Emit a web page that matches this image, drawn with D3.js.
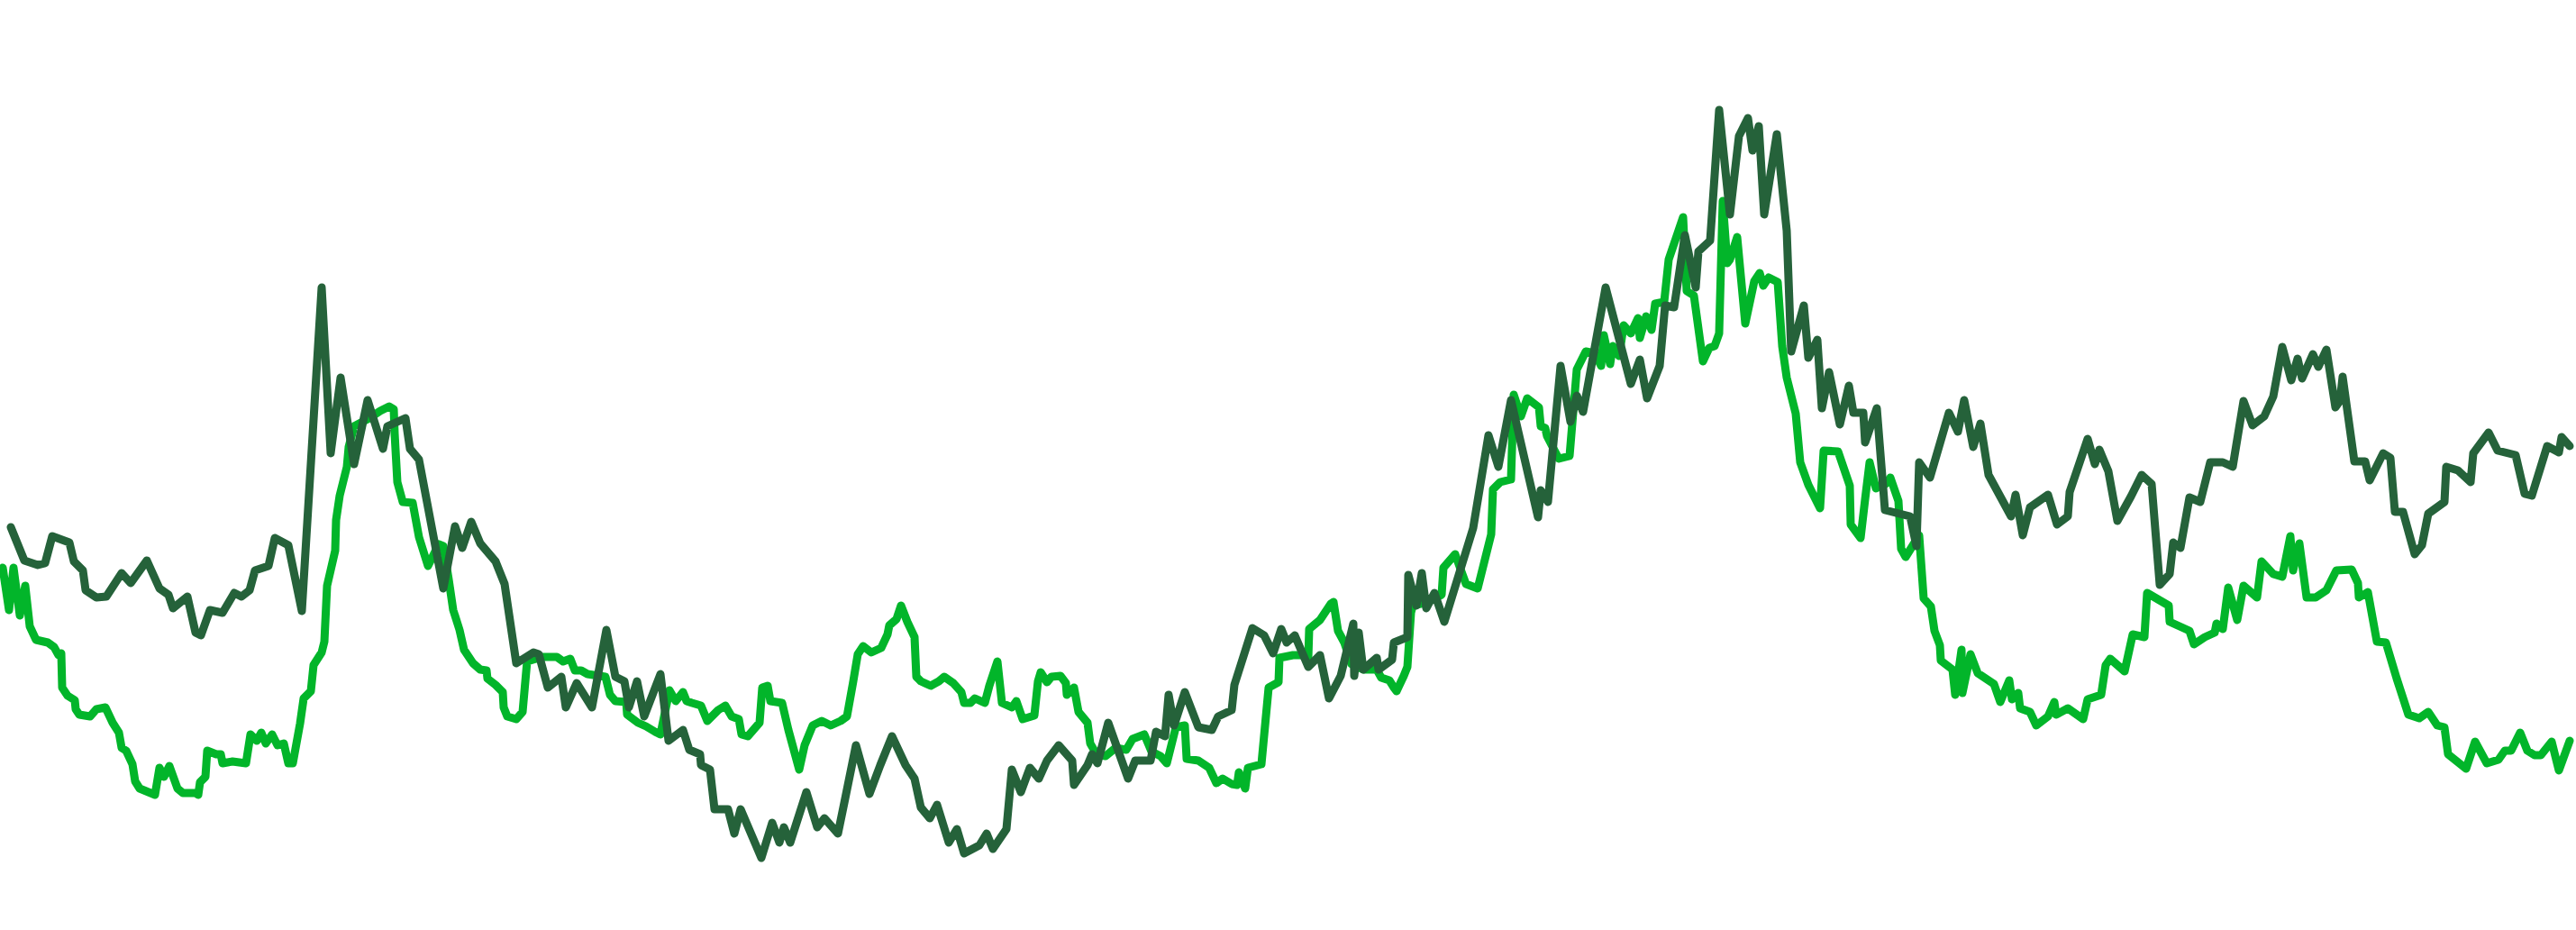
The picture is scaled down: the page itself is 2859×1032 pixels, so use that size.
<!DOCTYPE html>
<html>
<head>
<meta charset="utf-8">
<script src="https://cdn.jsdelivr.net/npm/d3@7"></script>
<style>
  html, body { margin: 0; padding: 0; background: #ffffff; }
  svg { display: block; }
</style>
</head>
<body>
<div id="chart"></div>
<script>
// Series A (bright green): time positions and values
const brightT = [3,10,15,22,28,33,40,53,60,65,68,69,75,83,84,88,100,107,117,125,132,135,140,147,150,155,172,177,182,188,197,203,217,220,222,228,230,240,245,247,258,273,278,285,290,295,302,308,315,320,325,333,337,345,348,357,360,363,372,373,377,385,387,393,410,422,432,437,438,441,447,458,465,475,487,492,498,503,510,515,525,533,540,541,550,558,559,563,573,580,585,602,618,625,633,638,645,652,672,677,683,695,696,708,717,727,733,743,750,758,762,768,778,785,797,805,812,820,823,830,843,846,852,855,868,875,887,893,902,912,922,933,940,947,952,958,967,978,985,987,995,1000,1007,1015,1017,1022,1033,1042,1048,1058,1067,1070,1077,1082,1093,1098,1107,1112,1123,1128,1135,1148,1152,1155,1162,1167,1177,1183,1184,1192,1197,1207,1210,1217,1227,1238,1250,1257,1270,1278,1288,1295,1305,1315,1317,1330,1342,1350,1357,1367,1373,1375,1382,1385,1400,1408,1419,1420,1435,1448,1452,1453,1465,1477,1480,1485,1492,1500,1513,1528,1533,1542,1547,1550,1558,1562,1566,1568,1585,1600,1602,1615,1627,1640,1655,1657,1665,1677,1680,1688,1695,1708,1710,1715,1717,1730,1742,1750,1760,1770,1777,1780,1787,1790,1797,1802,1810,1818,1820,1827,1833,1837,1847,1852,1868,1872,1880,1890,1897,1903,1908,1912,1917,1920,1928,1937,1947,1953,1957,1963,1973,1978,1983,1993,1998,2007,2020,2024,2040,2053,2054,2065,2070,2075,2082,2093,2098,2107,2110,2115,2130,2135,2143,2147,2153,2154,2167,2170,2177,2178,2187,2195,2213,2220,2230,2233,2240,2242,2253,2260,2273,2280,2282,2295,2312,2317,2332,2337,2342,2358,2367,2380,2383,2407,2408,2430,2435,2447,2458,2460,2467,2473,2483,2490,2505,2510,2523,2533,2542,2545,2552,2560,2570,2582,2593,2610,2617,2618,2628,2638,2648,2660,2673,2685,2695,2705,2713,2717,2737,2747,2760,2773,2780,2787,2797,2805,2813,2820,2832,2840,2852];
const brightV = [40.2,35.5,40.2,34.9,38.2,33.7,32.2,31.9,31.4,30.5,30.7,26.9,26.0,25.5,24.5,23.9,23.7,24.5,24.7,23.0,21.9,20.2,19.9,18.4,16.5,15.7,15.0,18.0,17.0,18.2,15.7,15.2,15.2,15.0,16.4,17.0,19.9,19.5,19.5,18.5,18.7,18.5,21.7,21.0,21.9,20.7,21.7,20.5,20.7,18.5,18.5,22.9,25.7,26.5,29.4,30.8,32.0,38.2,42.1,45.5,48.2,51.4,53.6,55.9,56.8,57.6,58.1,57.8,55.1,49.7,47.5,47.4,43.6,40.4,42.8,42.6,38.9,35.5,33.3,31.1,29.6,28.9,28.8,27.9,27.2,26.4,24.7,23.7,23.4,24.2,29.8,30.3,30.3,29.8,30.1,28.8,28.8,28.4,28.1,26.1,25.4,25.3,23.9,23.0,22.6,22.0,21.7,26.6,25.4,26.4,25.4,25.2,24.9,23.2,24.4,24.9,23.7,23.4,21.7,21.5,23.0,26.9,27.1,25.4,25.2,22.2,17.8,20.5,22.7,23.2,22.7,23.2,23.7,27.6,30.6,31.5,30.8,31.3,32.8,33.8,34.5,36.0,34.2,32.5,28.1,27.6,27.1,27.6,28.1,27.4,26.4,25.2,25.2,25.7,25.2,27.1,29.8,25.2,24.7,25.4,23.4,23.8,27.6,28.6,27.5,28.1,28.2,27.4,26.1,26.9,24.2,23.0,20.7,19.5,19.3,20.2,20.0,21.2,21.7,19.8,19.3,18.5,22.5,22.7,19.0,18.8,18.0,16.3,16.8,16.2,16.1,17.5,15.7,18.0,18.4,26.9,27.5,30.2,30.5,30.5,30.2,33.4,34.4,36.2,36.4,33.2,31.9,29.5,28.9,28.9,28.0,27.7,26.9,26.5,28.2,29.2,35.2,36.0,36.4,37.2,40.2,41.7,38.4,37.9,43.9,48.9,49.7,50.0,59.4,57.0,59.0,58.0,55.9,55.7,54.8,52.3,52.6,62.2,64.2,64.0,62.6,66.0,62.8,64.8,63.7,67.1,66.2,67.9,65.7,68.1,66.6,69.5,69.7,74.4,79.1,70.9,70.4,63.1,64.6,64.8,66.2,80.9,74.0,74.4,76.9,67.3,72.0,72.9,71.5,72.4,71.9,64.8,61.3,57.3,51.9,49.4,46.8,53.2,53.1,49.3,45.0,43.5,47.8,51.9,49.0,49.5,50.2,47.6,42.3,41.4,43.8,36.8,35.9,33.2,31.6,29.9,28.9,26.1,31.1,26.3,30.6,28.5,27.3,25.3,27.7,25.6,26.3,24.6,24.2,22.7,23.7,25.3,23.9,24.6,23.4,25.6,26.1,29.4,30.1,28.7,32.8,32.5,37.4,36.0,34.2,33.2,31.7,32.5,33.0,34.0,33.4,38.0,34.4,38.2,36.9,40.9,39.5,39.2,43.7,39.9,42.9,36.9,36.9,37.7,39.9,40.0,38.5,36.9,37.5,32.0,31.9,27.9,23.9,23.5,24.2,22.7,22.5,19.5,17.9,20.9,18.5,18.9,19.9,19.9,21.9,19.9,19.4,19.4,20.9,17.7,21.0];

// Series B (dark green): time positions and values
const darkT = [12,27,42,50,58,77,82,92,95,107,118,135,145,163,177,187,192,208,217,223,233,247,260,268,277,283,298,305,320,335,357,367,378,393,408,425,430,450,455,465,492,505,513,523,533,550,560,573,592,598,608,623,628,640,657,673,683,693,698,707,715,733,742,758,765,777,778,788,793,808,815,822,845,857,865,870,877,895,907,915,930,937,950,965,977,990,1005,1015,1022,1032,1040,1053,1062,1070,1087,1095,1102,1117,1123,1133,1143,1153,1162,1175,1190,1192,1207,1212,1218,1230,1252,1260,1277,1283,1293,1297,1303,1315,1330,1345,1352,1367,1370,1390,1403,1413,1422,1428,1437,1452,1465,1475,1488,1502,1503,1508,1513,1528,1530,1545,1547,1562,1563,1572,1578,1583,1592,1603,1635,1652,1663,1677,1707,1710,1718,1732,1743,1750,1757,1782,1810,1820,1828,1842,1848,1858,1870,1882,1885,1898,1908,1920,1930,1940,1945,1952,1958,1972,1983,1988,2002,2007,2017,2022,2030,2042,2052,2057,2068,2070,2083,2092,2120,2127,2130,2142,2163,2173,2180,2190,2198,2207,2232,2237,2245,2253,2273,2283,2295,2297,2317,2325,2330,2340,2350,2365,2377,2388,2397,2408,2412,2420,2430,2442,2453,2467,2478,2490,2500,2513,2523,2533,2543,2550,2555,2567,2573,2582,2592,2597,2600,2613,2625,2630,2645,2653,2658,2667,2680,2688,2695,2713,2715,2728,2742,2745,2762,2772,2792,2802,2810,2827,2840,2843,2852];
const darkV = [44.7,41.0,40.5,40.7,43.7,43.0,40.9,39.9,37.7,36.9,37.0,39.6,38.5,41.0,37.9,37.2,35.7,37.0,33.0,32.7,35.5,35.2,37.4,37.0,37.7,39.9,40.4,43.5,42.7,35.4,71.3,52.9,61.3,51.7,58.8,53.4,55.9,56.8,53.4,52.2,37.9,44.8,42.4,45.3,42.9,40.9,38.4,29.6,30.8,30.6,26.9,28.1,24.7,27.4,24.7,33.3,28.1,27.6,24.7,27.6,23.7,28.4,21.0,22.2,20.0,19.5,18.3,17.8,13.4,13.4,10.7,13.4,8.0,11.9,9.7,11.4,9.7,15.3,11.4,12.4,10.7,14.1,20.5,15.1,18.3,21.5,18.3,16.8,13.6,12.4,13.9,9.7,11.2,8.5,9.4,10.7,9.0,11.2,17.8,15.3,18.0,16.8,18.8,20.5,18.8,16.1,18.3,19.5,18.5,23.0,16.8,18.8,18.8,22.0,21.5,26.1,22.7,26.4,22.5,22.2,23.7,24.4,27.2,33.5,32.7,30.7,33.4,31.9,32.7,29.2,30.5,25.7,28.2,34.0,28.2,33.0,28.9,30.2,28.9,30.0,31.9,32.5,39.4,36.0,39.6,35.7,37.4,34.2,44.6,54.9,51.4,58.8,45.8,48.8,47.5,62.6,56.4,59.3,57.5,71.3,60.6,63.3,59.0,62.6,69.3,69.1,77.1,71.3,75.3,76.5,91.0,79.4,88.1,90.1,86.5,89.2,79.4,88.3,77.6,64.2,69.3,63.5,65.5,57.9,61.9,56.1,60.4,57.4,57.4,54.1,57.9,46.6,45.9,42.6,51.9,50.2,57.4,55.3,58.8,53.6,56.2,50.5,45.9,48.3,43.8,46.9,48.3,45.0,45.9,48.6,54.5,51.7,53.3,50.9,45.4,48.1,50.5,49.5,38.3,39.5,43.0,42.4,48.0,47.5,51.9,51.9,51.4,58.7,56.0,57.0,59.2,64.7,61.0,63.4,61.2,63.9,62.5,64.4,58.0,58.7,61.4,52.0,52.0,49.9,52.9,52.4,46.4,46.4,41.7,42.7,46.2,47.5,51.4,51.0,49.7,52.9,55.2,53.2,52.7,48.4,48.2,53.7,53.0,54.7,53.7];

const width = 2859, height = 1032;

const brightData = brightT.map((t, i) => ({ t, v: brightV[i] }));
const darkData = darkT.map((t, i) => ({ t, v: darkV[i] }));

const x = d3.scaleLinear().domain([0, 2859]).range([0, width]);
const y = d3.scaleLinear().domain([0, 103.2]).range([height, 0]);

const svg = d3.select("#chart").append("svg")
  .attr("width", width)
  .attr("height", height)
  .attr("viewBox", `0 0 ${width} ${height}`);

svg.append("rect").attr("width", width).attr("height", height).attr("fill", "#ffffff");

const line = d3.line()
  .x(d => x(d.t))
  .y(d => y(d.v))
  .curve(d3.curveLinear);

const series = [
  { name: "A", data: brightData, color: "#02b52a" },
  { name: "B", data: darkData, color: "#25623a" }
];

svg.selectAll("path.series")
  .data(series)
  .join("path")
  .attr("class", "series")
  .attr("d", d => line(d.data))
  .attr("fill", "none")
  .attr("stroke", d => d.color)
  .attr("stroke-width", 9)
  .attr("stroke-linejoin", "round")
  .attr("stroke-linecap", "round");
</script>
</body>
</html>
